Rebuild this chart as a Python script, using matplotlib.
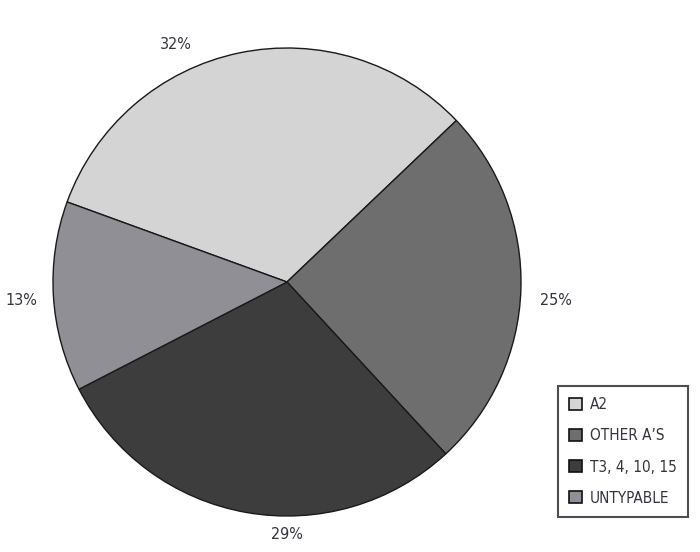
import matplotlib
matplotlib.use("Agg")
import matplotlib.pyplot as plt
import numpy as np

# data
categories = ["A2", "OTHER A\u2019S", "T3, 4, 10, 15", "UNTYPABLE"]
values = [32, 25, 29, 13]
pct_labels = ["32%", "25%", "29%", "13%"]
colors = ["#d4d4d4", "#6e6e6e", "#3d3d3d", "#8f8f95"]

# label placement (angle in degrees, distance in radii)
label_angles = [115, -4, -90, 184]
label_dist = [1.12, 1.15, 1.08, 1.14]

plt.rcParams['font.family'] = ['DejaVu Sans']
plt.rcParams['font.stretch'] = 'condensed'

fig = plt.figure(figsize=(7, 5.52), dpi=100)
r_px = 234
cx, cy = 287, 282
ax = fig.add_axes([(cx - r_px) / 700, (552 - cy - r_px) / 552, 2 * r_px / 700, 2 * r_px / 552])

wedges, _ = ax.pie(values, colors=colors, startangle=160, counterclock=False,
                   wedgeprops=dict(edgecolor="#1a1a1a", linewidth=1.0))
ax.set_xlim(-1, 1)
ax.set_ylim(-1, 1)

for txt, a, d in zip(pct_labels, label_angles, label_dist):
    t = np.deg2rad(a)
    ax.text(d * np.cos(t), d * np.sin(t), txt, ha="center", va="center",
            fontsize=11.5, color="#333340", clip_on=False)

leg = fig.legend(wedges, categories, loc="lower right",
                 bbox_to_anchor=(688 / 700, 35 / 552), bbox_transform=fig.transFigure,
                 fontsize=11, frameon=True, fancybox=False, borderaxespad=0,
                 handlelength=0.85, handleheight=0.85, handletextpad=0.5,
                 labelspacing=1.05, borderpad=0.75, labelcolor="#333340")
leg.get_frame().set_edgecolor("#222222")
leg.get_frame().set_linewidth(1.5)
for h in leg.legend_handles:
    h.set_edgecolor("#111111")
    h.set_linewidth(1.2)

fig.savefig("out.png", dpi=100, facecolor="white")
